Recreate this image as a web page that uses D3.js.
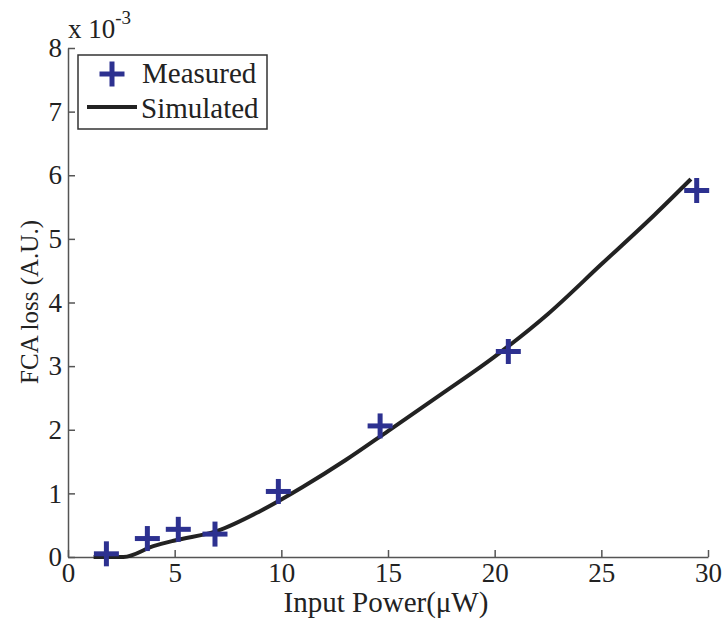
<!DOCTYPE html>
<html>
<head>
<meta charset="utf-8">
<script src="https://cdn.jsdelivr.net/npm/d3@7"></script>
<style>
  body { margin: 0; background: #fff; }
  text { font-family: "Liberation Serif", "Times New Roman", serif; fill: #222; }
</style>
</head>
<body>
<script>
// Measured points (x in uW, y in 1e-3 A.U.)
const measuredX = [1.8, 3.72, 5.17, 6.89, 9.86, 14.63, 20.64, 29.47];
const measuredY = [0.05, 0.29, 0.435, 0.36, 1.03, 2.06, 3.23, 5.76];

// Simulated curve
const simX = [1.2, 2.6, 4, 5, 7, 9, 11, 13, 15, 17.5, 20, 22.5, 25, 27.5, 29.2];
const simY = [0, 0, 0.17, 0.26, 0.41, 0.72, 1.1, 1.52, 1.98, 2.56, 3.15, 3.82, 4.6, 5.38, 5.94];

const xTicks = [0, 5, 10, 15, 20, 25, 30];
const yTicks = [0, 1, 2, 3, 4, 5, 6, 7, 8];

const width = 723, height = 622;
const blue = "#2d3190";

const svg = d3.select("body")
  .append("svg")
  .attr("width", width)
  .attr("height", height);

const x = d3.scaleLinear().domain([0, 30]).range([68, 708]);
const y = d3.scaleLinear().domain([0, 8]).range([557, 48]);

// axes, ticks pointing inward
const xAxis = svg.append("g")
  .attr("transform", `translate(0,${y(0)})`)
  .call(d3.axisBottom(x).tickValues(xTicks).tickSizeInner(-7).tickSizeOuter(0).tickPadding(6));
const yAxis = svg.append("g")
  .attr("transform", `translate(${x(0)},0)`)
  .call(d3.axisLeft(y).tickValues(yTicks).tickSizeInner(-7).tickSizeOuter(0).tickPadding(6));

[xAxis, yAxis].forEach(g => {
  g.select(".domain").attr("stroke", "#555").attr("stroke-width", 1.5);
  g.selectAll(".tick line").attr("stroke", "#555").attr("stroke-width", 1.5);
  g.selectAll(".tick text")
    .attr("font-family", "Liberation Serif, serif")
    .attr("font-size", 27)
    .attr("fill", "#222");
});

// simulated line
const line = d3.line()
  .x(d => x(d[0]))
  .y(d => y(d[1]))
  .curve(d3.curveMonotoneX);

svg.append("path")
  .datum(d3.zip(simX, simY))
  .attr("d", line)
  .attr("fill", "none")
  .attr("stroke", "#222")
  .attr("stroke-width", 4);

// measured markers
const plus = (g, cx, cy, r) => {
  g.append("line").attr("x1", cx - r).attr("x2", cx + r).attr("y1", cy).attr("y2", cy);
  g.append("line").attr("x1", cx).attr("x2", cx).attr("y1", cy - r).attr("y2", cy + r);
};

const marks = svg.append("g").attr("stroke", blue).attr("stroke-width", 5);
d3.zip(measuredX, measuredY).forEach(d => plus(marks, x(d[0]), y(d[1]), 12.5));

// exponent label
const expo = svg.append("text").attr("x", 68).attr("y", 38).attr("font-size", 27);
expo.append("tspan").text("x 10");
expo.append("tspan").attr("font-size", 19).attr("dy", -14).text("-3");

// axis titles
svg.append("text")
  .attr("x", 386).attr("y", 612)
  .attr("text-anchor", "middle")
  .attr("font-size", 29)
  .text("Input Power(\u03bcW)");

svg.append("text")
  .attr("transform", "translate(38,302) rotate(-90)")
  .attr("text-anchor", "middle")
  .attr("font-size", 25)
  .text("FCA loss (A.U.)");

// legend
const legend = svg.append("g");
legend.append("rect")
  .attr("x", 78).attr("y", 55).attr("width", 189).attr("height", 74)
  .attr("fill", "#fff").attr("stroke", "#333").attr("stroke-width", 1.5);
const lm = legend.append("g").attr("stroke", blue).attr("stroke-width", 5);
plus(lm, 112, 74, 12.5);
legend.append("text").attr("x", 142).attr("y", 83).attr("font-size", 29).text("Measured");
legend.append("line")
  .attr("x1", 87).attr("x2", 137).attr("y1", 107).attr("y2", 107)
  .attr("stroke", "#222").attr("stroke-width", 4);
legend.append("text").attr("x", 141).attr("y", 118).attr("font-size", 29).text("Simulated");
</script>
</body>
</html>
